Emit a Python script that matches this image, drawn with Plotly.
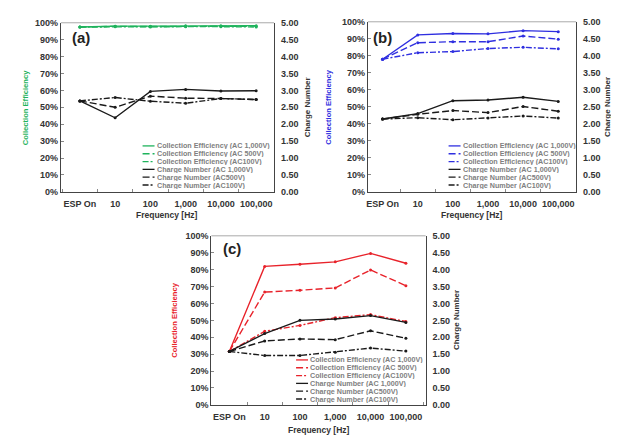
import plotly.graph_objects as go

freq_labels = ["ESP On", "10", "100", "1,000", "10,000", "100,000"]

# Panel (a)
ce_a_1000 = [0.975, 0.980, 0.980, 0.982, 0.983, 0.983]
ce_a_500 = [0.975, 0.979, 0.978, 0.980, 0.980, 0.980]
ce_a_100 = [0.975, 0.977, 0.975, 0.977, 0.977, 0.975]
cn_a_1000 = [2.69, 2.19, 2.97, 3.03, 2.98, 2.99]
cn_a_500 = [2.69, 2.50, 2.83, 2.77, 2.76, 2.73]
cn_a_100 = [2.69, 2.79, 2.68, 2.62, 2.76, 2.73]

# Panel (b)
ce_b_1000 = [0.780, 0.923, 0.931, 0.929, 0.948, 0.942]
ce_b_500 = [0.780, 0.877, 0.883, 0.883, 0.916, 0.898]
ce_b_100 = [0.780, 0.818, 0.825, 0.843, 0.850, 0.841]
cn_b_1000 = [2.14, 2.30, 2.68, 2.70, 2.78, 2.66]
cn_b_500 = [2.14, 2.28, 2.39, 2.33, 2.51, 2.37]
cn_b_100 = [2.14, 2.18, 2.12, 2.17, 2.23, 2.17]

# Panel (c)
ce_c_1000 = [0.316, 0.819, 0.832, 0.846, 0.896, 0.838]
ce_c_500 = [0.316, 0.667, 0.678, 0.692, 0.798, 0.705]
ce_c_100 = [0.316, 0.435, 0.470, 0.516, 0.534, 0.493]
cn_c_1000 = [1.58, 2.11, 2.50, 2.54, 2.64, 2.44]
cn_c_500 = [1.58, 1.89, 1.95, 1.93, 2.19, 1.97]
cn_c_100 = [1.58, 1.46, 1.46, 1.56, 1.68, 1.59]

legend_names = [
    "Collection Efficiency (AC 1,000V)",
    "Collection Efficiency (AC 500V)",
    "Collection Efficiency (AC100V)",
    "Charge Number (AC 1,000V)",
    "Charge Number (AC500V)",
    "Charge Number (AC100V)",
]

W, H = 619, 440
def px(x): return x / W
def py(y): return 1 - y / H

GREEN = "#1fb35c"
BLUE = "#2f2fe0"
RED = "#e8232b"
BLACK = "#1a1a1a"
DASHES = ["solid", "7px,3px", "6px,2px,2px,2px"]
FONT = "Liberation Sans, Arial, sans-serif"

panels = [
    dict(tag="(a)", color=GREEN, ce=[ce_a_1000, ce_a_500, ce_a_100], cn=[cn_a_1000, cn_a_500, cn_a_100],
         box=(51, 265, 10, 183), xr=[-0.54, 5.51], lt=15, rt=298, legx=133, legy0=136, legdy=8,
         tlx=60, tly=25, xtl=207),
    dict(tag="(b)", color=BLUE, ce=[ce_b_1000, ce_b_500, ce_b_100], cn=[cn_b_1000, cn_b_500, cn_b_100],
         box=(359, 568, 9, 183), xr=[-0.42, 5.51], lt=320, rt=600, legx=440, legy0=136, legdy=8,
         tlx=362, tly=25, xtl=207),
    dict(tag="(c)", color=RED, ce=[ce_c_1000, ce_c_500, ce_c_100], cn=[cn_c_1000, cn_c_500, cn_c_100],
         box=(202, 417, 228, 401), xr=[-0.51, 5.56], lt=165, rt=448, legx=287, legy0=355, legdy=8,
         tlx=212, tly=241, xtl=427),
]

fig = go.Figure()
layout = dict(width=W, height=H, margin=dict(l=0, r=0, t=0, b=0), showlegend=False,
              paper_bgcolor="white", plot_bgcolor="white",
              font=dict(family=FONT, size=9, color="#333333"))
annotations = []
shapes = []

for i, p in enumerate(panels):
    n = i + 1
    xa = "x" if n == 1 else f"x{n}"
    ya_l = f"y{2*n-1}" if n > 1 else "y"
    ya_r = f"y{2*n}"
    x0, x1, y0, y1 = p["box"]
    for k in range(3):
        fig.add_trace(go.Scatter(x=freq_labels, y=p["ce"][k], xaxis=xa, yaxis=ya_l, mode="lines+markers",
                                 line=dict(color=p["color"], width=1.4, dash=DASHES[k]),
                                 marker=dict(size=3, color=p["color"]), name=legend_names[k]))
    for k in range(3):
        fig.add_trace(go.Scatter(x=freq_labels, y=p["cn"][k], xaxis=xa, yaxis=ya_r, mode="lines+markers",
                                 line=dict(color=BLACK, width=1.4, dash=DASHES[k]),
                                 marker=dict(size=3, color=BLACK), name=legend_names[3 + k]))
    xkey = "xaxis" if n == 1 else f"xaxis{n}"
    ylkey = "yaxis" if n == 1 else f"yaxis{2*n-1}"
    yrkey = f"yaxis{2*n}"
    layout[xkey] = dict(domain=[px(x0), px(x1)], anchor=ya_l, type="category", range=p["xr"],
                        showline=True, linecolor="#444444", linewidth=1.2, showgrid=False,
                        ticks="inside", ticklen=3, tickcolor="#888888", tickson="boundaries",
                        tickangle=0, ticklabelstandoff=3,
                        tickfont=dict(size=9, color="#333333", family=FONT, weight="bold"))
    layout[ylkey] = dict(domain=[py(y1), py(y0)], anchor=xa, range=[0, 1], dtick=0.1, tickformat=".0%",
                         showline=True, linecolor="#444444", linewidth=1.2, showgrid=False, zeroline=False,
                         ticks="inside", ticklen=3, tickcolor="#888888",
                         tickfont=dict(size=9, color="#333333", family=FONT, weight="bold"))
    layout[yrkey] = dict(overlaying=ya_l, side="right", anchor=xa, range=[0, 5], dtick=0.5, tickformat=".2f",
                         showline=True, linecolor="#444444", linewidth=1.2, showgrid=False, zeroline=False,
                         ticks="", ticklabelstandoff=4,
                         tickfont=dict(size=9, color="#333333", family=FONT, weight="bold"))
    shapes.append(dict(type="line", xref=f"{xa} domain", yref=f"{ya_l} domain", x0=0, x1=1, y0=1, y1=1,
                       line=dict(color="#aaaaaa", width=1)))
    annotations.append(dict(text=p["tag"], x=px(p["tlx"]), y=py(p["tly"]), xref="paper", yref="paper",
                            xanchor="left", yanchor="middle", showarrow=False,
                            font=dict(size=15, color="#222222", family=FONT, weight="bold")))
    annotations.append(dict(text="Collection Efficiency", x=px(p["lt"]), y=py((y0 + y1) / 2), xref="paper",
                            yref="paper", textangle=-90, showarrow=False, xanchor="center", yanchor="middle",
                            font=dict(size=7.6, color=p["color"], family=FONT, weight="bold")))
    annotations.append(dict(text="Charge Number", x=px(p["rt"]), y=py((y0 + y1) / 2), xref="paper",
                            yref="paper", textangle=-90, showarrow=False, xanchor="center", yanchor="middle",
                            font=dict(size=8, color="#333333", family=FONT, weight="bold")))
    annotations.append(dict(text="Frequency [Hz]", x=px((x0 + x1) / 2), y=py(p["xtl"]), xref="paper",
                            yref="paper", showarrow=False, xanchor="center", yanchor="middle",
                            font=dict(size=8.5, color="#333333", family=FONT, weight="bold")))
    for k in range(6):
        yy = py(p["legy0"] + k * p["legdy"])
        col = p["color"] if k < 3 else BLACK
        shapes.append(dict(type="line", xref="paper", yref="paper", x0=px(p["legx"]), x1=px(p["legx"] + 12),
                           y0=yy, y1=yy, line=dict(color=col, width=1.3, dash=DASHES[k % 3])))
        annotations.append(dict(text=legend_names[k], x=px(p["legx"] + 13), y=yy, xref="paper", yref="paper",
                                xanchor="left", yanchor="middle", showarrow=False, height=7,
                                borderpad=0, valign="middle",
                                font=dict(size=7.2, color="#808080", family=FONT, weight="bold")))

layout["annotations"] = annotations
layout["shapes"] = shapes
fig.update_layout(**layout)
fig.write_html("out.html")
